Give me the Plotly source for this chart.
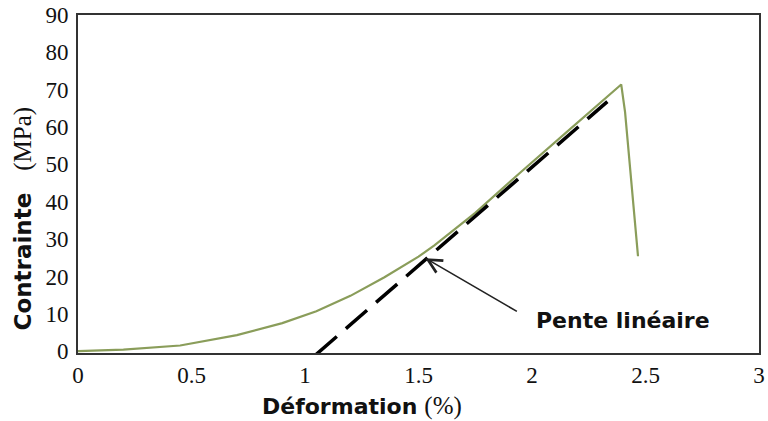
import plotly.graph_objects as go

# Stress-strain curve (Déformation %, Contrainte MPa)
strain = [0, 0.2, 0.45, 0.7, 0.9, 1.05, 1.2, 1.35, 1.5, 1.57, 1.75, 1.95, 2.15, 2.33, 2.393, 2.41, 2.467]
stress = [0, 0.4, 1.5, 4.3, 7.5, 10.7, 14.8, 19.8, 25.3, 28.3, 37.0, 47.9, 58.5, 68.2, 71.4, 64.0, 25.4]

# Linear slope line (dashed)
slope_x = [1.047, 2.332]
slope_y = [-1, 66.8]

x_ticks = [0, 0.5, 1, 1.5, 2, 2.5, 3]
x_tick_text = ["0", "0.5", "1", "1.5", "2", "2.5", "3"]
y_ticks = [0, 10, 20, 30, 40, 50, 60, 70, 80, 90]

L, R, T, B = 78, 3, 15, 68
W, H = 768, 421
pw, ph = W - L - R, H - T - B

def px(xp):
    return (xp - L) / pw

def py(yp):
    return (H - B - yp) / ph

fig = go.Figure()
fig.add_trace(go.Scatter(x=strain, y=stress, mode="lines",
                         line=dict(color="#8a9d5a", width=2.2), hoverinfo="skip"))
fig.add_trace(go.Scatter(x=slope_x, y=slope_y, mode="lines",
                         line=dict(color="black", width=3.5, dash="28px,12px"), hoverinfo="skip"))

axis_common = dict(showline=True, linecolor="#333333", linewidth=2, mirror=True,
                   showgrid=False, zeroline=False, ticks="", ticklabeloverflow="allow",
                   tickfont=dict(family="Liberation Serif", size=23, color="#111"))

fig.update_layout(
    width=W, height=H, margin=dict(l=L, r=R, t=T, b=B),
    paper_bgcolor="white", plot_bgcolor="white", showlegend=False,
    xaxis=dict(range=[0, 3], tickvals=x_ticks, ticktext=x_tick_text,
               ticklabelstandoff=0, **axis_common),
    yaxis=dict(range=[-0.5, 90], tickvals=y_ticks, ticklabelstandoff=3, **axis_common),
    annotations=[
        dict(x=1.53, y=24.9, ax=1.94, ay=10.4, xref="x", yref="y", axref="x", ayref="y",
             showarrow=True, arrowhead=5, arrowsize=1.7, arrowwidth=1.6, arrowcolor="#222",
             text=""),
        dict(x=px(628), y=py(320), xref="paper", yref="paper", showarrow=False,
             xanchor="center", yanchor="middle",
             text="<b>Pente linéaire</b>",
             font=dict(family="DejaVu Sans", size=22, color="#111")),
        dict(x=px(365), y=py(406), xref="paper", yref="paper", showarrow=False,
             xanchor="center", yanchor="middle",
             text="<b>Déformation</b> <span style='font-family:Liberation Serif;font-size:25px'>(%)</span>",
             font=dict(family="DejaVu Sans", size=22, color="#111")),
        dict(x=px(23), y=py(218), xref="paper", yref="paper", showarrow=False, textangle=-90,
             xanchor="center", yanchor="middle",
             text="<b>Contrainte</b>   <span style='font-family:Liberation Serif;font-size:25px'>(MPa)</span>",
             font=dict(family="DejaVu Sans", size=23, color="#111")),
    ],
)

fig.write_html("out.html")
